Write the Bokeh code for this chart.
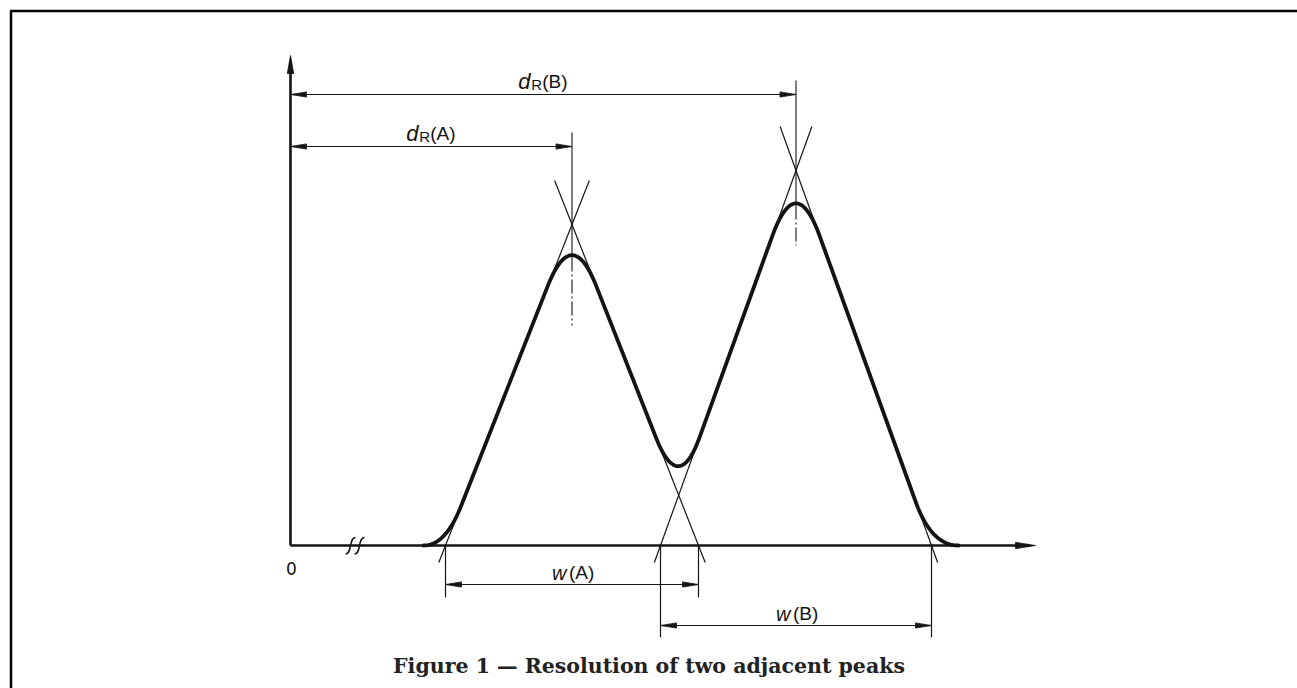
import numpy as np
from bokeh.plotting import figure
from bokeh.models import Range1d
from bokeh.embed import file_html
from bokeh.resources import INLINE
from bokeh.core.properties import value

# ---------------- data (drawing units, origin at the axes corner) ----------------
peak_labels = ["A", "B"]
retention = [281.5, 505.5]      # d_R(A), d_R(B)
base_width = [253, 271]         # w(A), w(B) (tangent intercepts on the baseline)
apex_height = [321, 375]        # height of the tangent intersection
curve_start = 133               # where the trace leaves the baseline
curve_end = 668                 # where the trace returns to the baseline
x_axis_end = 745
y_axis_end = 490
break_x = [60, 69]              # axis break marks
caption = "Figure 1 \u2014 Resolution of two adjacent peaks"
origin_label = "0"

# ---------------- layout / style ----------------
W, H = 1297, 688
OX, OY = 290, 545               # origin position inside the canvas (px from left / top)
INK = "#141414"
SANS = "Liberation Sans"

p = figure(width=W, height=H, x_range=Range1d(-OX, W - OX), y_range=Range1d(OY - H, OY),
           output_backend="svg", toolbar_location=None, min_border=0,
           x_axis_location=None, y_axis_location=None)
p.grid.visible = False
p.outline_line_color = None
p.background_fill_color = "white"
p.border_fill_color = "white"

# frame (left + top edges of the figure box)
FX, FY = -OX + 10.5, OY - 10.5
p.segment(x0=[FX, FX - 1], y0=[OY - H, FY], x1=[FX, W - OX], y1=[FY, FY],
          line_color="black", line_width=2.5)


def arrowhead(tip, direction, length, half):
    tip = np.asarray(tip, float)
    d = np.asarray(direction, float)
    d = d / np.linalg.norm(d)
    n = np.array([-d[1], d[0]])
    base = tip - d * length
    pts = [tip, base + n * half, base - n * half]
    return [q[0] for q in pts], [q[1] for q in pts]


heads_x, heads_y = [], []


def add_head(tip, direction, length=16, half=2.6):
    hx, hy = arrowhead(tip, direction, length, half)
    heads_x.append(hx)
    heads_y.append(hy)


# axes
p.line([0, 0], [0, y_axis_end - 6], line_color=INK, line_width=2.6)
p.line([0, x_axis_end - 6], [0, 0], line_color=INK, line_width=2.6)
add_head((0, y_axis_end), (0, 1), 18, 3.2)
add_head((x_axis_end, 0), (1, 0), 20, 3.2)

# axis break marks
for bx in break_x:
    p.bezier(x0=[bx - 5], y0=[-8.5], x1=[bx + 5], y1=[8],
             cx0=[bx + 1.5], cy0=[-9], cx1=[bx - 1.5], cy1=[8.5],
             line_color=INK, line_width=1.5)

p.text(x=[1], y=[-23], text=[origin_label], text_font=value("DejaVu Sans"), text_font_size="17px",
       text_align="center", text_baseline="middle", text_color=INK)

# ---------------- peaks ----------------
lefts = [r - w / 2 for r, w in zip(retention, base_width)]
rights = [r + w / 2 for r, w in zip(retention, base_width)]

# valley: intersection of A's trailing tangent and B's leading tangent
sA = apex_height[0] / (base_width[0] / 2)
sB = apex_height[1] / (base_width[1] / 2)
vx = (sA * rights[0] + sB * lefts[1]) / (sA + sB)
vy = sB * (vx - lefts[1])

verts = [(curve_start, 0), (lefts[0], 0), (retention[0], apex_height[0]), (vx, vy),
         (retention[1], apex_height[1]), (rights[1], 0), (curve_end, 0)]
fil_in = [None, lefts[0] - curve_start, 66, 62, 70, 46, None]
fil_out = [None, 42, 66, 62, 70, curve_end - rights[1], None]

cx, cy = [verts[0][0]], [verts[0][1]]
t = np.linspace(0, 1, 40)
for i in range(1, len(verts) - 1):
    P = np.array(verts[i], float)
    A = np.array(verts[i - 1], float)
    B = np.array(verts[i + 1], float)
    u = (A - P) / np.linalg.norm(A - P)
    v = (B - P) / np.linalg.norm(B - P)
    p0 = P + u * fil_in[i]
    p2 = P + v * fil_out[i]
    seg = ((1 - t) ** 2)[:, None] * p0 + (2 * (1 - t) * t)[:, None] * P + (t ** 2)[:, None] * p2
    cx.extend(seg[:, 0])
    cy.extend(seg[:, 1])
cx.append(verts[-1][0])
cy.append(verts[-1][1])
p.line(cx, cy, line_color=INK, line_width=3.8, line_join="round", line_cap="round")

# tangent construction lines
tx, ty = [], []
for r, w, h in zip(retention, base_width, apex_height):
    lo, hi = -17, h + 44
    half = w / 2
    tx.append([r - half + lo / h * half, r - half + hi / h * half])
    ty.append([lo, hi])
    tx.append([r + half - lo / h * half, r + half - hi / h * half])
    ty.append([lo, hi])
p.multi_line(tx, ty, line_color=INK, line_width=1.2)

# centre lines through the apexes
top_ext = [413, 465]
curve_tops = [apex_height[0] - 33, apex_height[1] - 35]
dash_end = [220, 300]
for r, t0, ct, de in zip(retention, top_ext, curve_tops, dash_end):
    p.line([r, r], [t0, ct], line_color=INK, line_width=1.1)
    p.line([r, r], [ct, de], line_color=INK, line_width=1.1, line_dash="14 3 2 3")

# ---------------- dimensions ----------------
dim_lines_x, dim_lines_y = [], []


def dimension(x0, x1, y):
    dim_lines_x.append([x0, x1])
    dim_lines_y.append([y, y])
    add_head((x0, y), (-1, 0))
    add_head((x1, y), (1, 0))


dR_y = [399, 451]
for r, y in zip(retention, dR_y):
    dimension(0, r, y)

w_y = [-39, -80]
w_ext = [-52, -92]
for l, rr, y, e in zip(lefts, rights, w_y, w_ext):
    dimension(l, rr, y)
    dim_lines_x.extend([[l, l], [rr, rr]])
    dim_lines_y.extend([[0, e], [0, e]])

p.multi_line(dim_lines_x, dim_lines_y, line_color=INK, line_width=1.2)
p.patches(heads_x, heads_y, fill_color=INK, line_color=INK, line_width=0.8)

# labels d_R(X) and w(X)
for lab, r, y in zip(peak_labels, retention, dR_y):
    mid = r / 2
    p.text(x=[mid - 25], y=[y + 13], text=["d"], text_font=value(SANS), text_font_style="italic",
           text_font_size="22px", text_baseline="alphabetic", text_align="left", text_color=INK)
    p.text(x=[mid - 12], y=[y + 10], text=["R"], text_font=value(SANS),
           text_font_size="15px", text_baseline="alphabetic", text_align="left", text_color=INK)
    p.text(x=[mid - 1], y=[y + 13], text=["(" + lab + ")"], text_font=value(SANS),
           text_font_size="19px", text_baseline="alphabetic", text_align="left", text_color=INK)

for lab, l, rr, y in zip(peak_labels, lefts, rights, w_y):
    mid = (l + rr) / 2
    p.text(x=[mid - 20], y=[y + 12], text=["w"], text_font=value(SANS), text_font_style="italic",
           text_font_size="20px", text_baseline="alphabetic", text_align="left", text_color=INK)
    p.text(x=[mid - 3], y=[y + 12], text=["(" + lab + ")"], text_font=value(SANS),
           text_font_size="19px", text_baseline="alphabetic", text_align="left", text_color=INK)

# caption
p.text(x=[358.5], y=[-120], text=[caption], text_font=value("DejaVu Serif"), text_font_style="bold",
       text_font_size="20.5px", text_align="center", text_baseline="alphabetic", text_color="#222222")

open("out.html", "w").write(file_html(p, INLINE))
